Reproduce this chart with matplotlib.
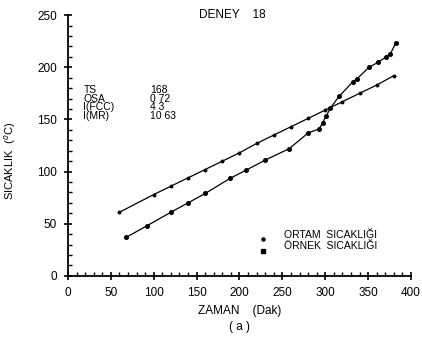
import matplotlib
matplotlib.use("Agg")
import matplotlib.pyplot as plt
from matplotlib.ticker import MultipleLocator

# ortam sicakligi (ambient temperature)
ortam_t = [60, 100, 120, 140, 160, 180, 200, 220, 240, 260, 280, 300, 320, 340, 360, 380]
ortam_T = [61, 78, 86, 94, 102, 110, 118, 127, 135, 143, 151, 159, 167, 175, 183, 192]

# ornek sicakligi (sample temperature)
ornek_t = [68, 92, 120, 140, 160, 189, 208, 230, 258, 280, 293, 297, 301, 306,
           316, 332, 337, 351, 362, 371, 376, 382]
ornek_T = [37, 48, 61, 70, 79, 93.5, 101.5, 111, 122, 137, 141, 147, 153, 161,
           172, 186, 189, 200, 205, 210, 213, 223]

info_names = ['TS', 'OSA', 'I(FCC)', 'I(MR)']
info_vals = ['168', '0 72', '4 3', '10 63']

plt.rcParams['font.family'] = ['Liberation Sans', 'DejaVu Sans']
fs = 8.5

fig = plt.figure(figsize=(4.22, 3.44), dpi=100)
ax = fig.add_axes([0.161, 0.198, 0.813, 0.758])

ax.plot(ortam_t, ortam_T, color='black', lw=0.9, marker='o', ms=1.8)
ax.plot(ornek_t, ornek_T, color='black', lw=0.9, marker='o', ms=2.6)

ax.set_xlim(0, 400)
ax.set_ylim(0, 250)
ax.xaxis.set_major_locator(MultipleLocator(50))
ax.xaxis.set_minor_locator(MultipleLocator(10))
ax.yaxis.set_major_locator(MultipleLocator(50))
ax.yaxis.set_minor_locator(MultipleLocator(10))
ax.tick_params(which='major', direction='inout', length=6, width=1.2,
               labelsize=fs, pad=5)
ax.tick_params(which='minor', direction='in', length=3, width=1)
ax.spines['top'].set_visible(False)
ax.spines['right'].set_visible(False)
ax.spines['left'].set_linewidth(1.3)
ax.spines['bottom'].set_linewidth(1.3)

ax.set_ylabel('SICAKLIK  ($^{o}$C)', fontsize=fs - 0.5)
ax.yaxis.set_label_coords(-0.145, 0.44)
ax.set_xlabel('ZAMAN    (Dak)\n( a )', fontsize=fs, labelpad=4, linespacing=1.5)
ax.text(192, 250, 'DENEY    18', fontsize=fs, ha='center', va='center')

# deney bilgileri
for i in range(len(info_names)):
    ax.text(18, 178 - i * 8.2, info_names[i], fontsize=fs - 1, va='center')
    ax.text(96, 178 - i * 8.2, info_vals[i], fontsize=fs - 1, va='center')

# legend
ax.plot([227], [35], 'o', color='black', ms=2.2)
ax.plot([227], [24], 's', color='black', ms=3)
ax.text(252, 39.5, 'ORTAM  SICAKLIĞI', fontsize=fs - 1, va='center')
ax.text(252, 29, 'ÖRNEK  SICAKLIĞI', fontsize=fs - 1, va='center')

fig.savefig('out.png', dpi=100)
